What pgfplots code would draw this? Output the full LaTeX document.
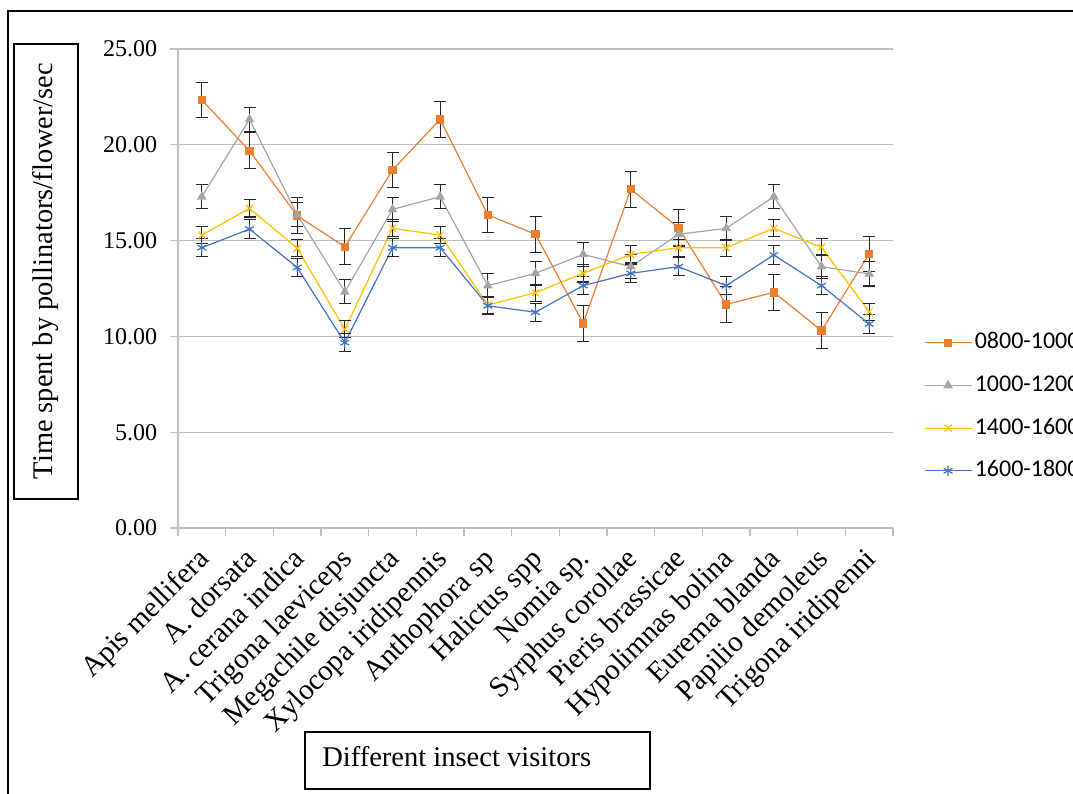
\documentclass[border=0pt]{standalone}
\usepackage{fontspec}
\setmainfont{Liberation Serif}
\newfontfamily\carlito{Carlito}
\usepackage{pgfplots}
\pgfplotsset{compat=1.18}
\definecolor{cO}{HTML}{ED7D31}
\definecolor{cG}{HTML}{A5A5A5}
\definecolor{cY}{HTML}{FFC000}
\definecolor{cB}{HTML}{4472C4}
\definecolor{gridc}{HTML}{BFBFBF}
\definecolor{errc}{HTML}{262626}
\begin{document}
\begin{tikzpicture}
\path[use as bounding box] (0,0) rectangle (804.75pt,594.75pt);
\draw[line width=1.1pt] (6pt,-5pt) -- (6pt,586.5pt) -- (815pt,586.5pt);
\draw[line width=1.5pt] (10.5pt,220.5pt) rectangle (58.5pt,561.75pt);
\node[rotate=90, inner sep=0pt, font=\fontsize{21.3}{21.3}\selectfont] at (34.5pt,391.5pt) {Time spent by pollinators/flower/sec};
\draw[line width=1.2pt] (228.75pt,3pt) rectangle (487.5pt,45.75pt);
\node[anchor=base west, inner sep=0pt, font=\fontsize{21.4}{21.4}\selectfont] at (241.5pt,19.7pt) {Different insect visitors};
\begin{axis}[
  at={(133.5pt,198.75pt)}, anchor=south west,
  scale only axis, width=536.25pt, height=359.25pt,
  xmin=-0.5, xmax=14.5, ymin=0, ymax=25,
  axis lines*=left,
  axis line style={draw=gridc, line width=1pt},
  xtick={0,...,14},
  xticklabels={Apis mellifera, A. dorsata, A. cerana indica, Trigona laeviceps, Megachile disjuncta, Xylocopa iridipennis, Anthophora sp, Halictus spp, Nomia sp., Syrphus corollae, Pieris brassicae, Hypolimnas bolina, Eurema blanda, Papilio demoleus, Trigona iridipenni},
  minor xtick={-0.5,0.5,...,14.5},
  ytick={0,5,...,25},
  ymajorgrids, grid style={gridc, line width=1pt},
  tick align=outside, major tick length=6pt, minor tick length=6pt,
  major x tick style={draw=none},
  minor x tick style={draw=gridc, line width=1pt},
  y tick style={draw=gridc, line width=1pt},
  /pgf/number format/assume math mode=true,
  yticklabel style={font=\fontsize{18}{18}\selectfont, /pgf/number format/fixed, /pgf/number format/fixed zerofill, /pgf/number format/precision=2, inner sep=0pt, xshift=-9.5pt},
  xticklabel shift=7.5pt,
  xticklabel style={font=\fontsize{21.8}{21.8}\selectfont, inner sep=0pt, xshift=-4.5pt, rotate=45, anchor=north east},
  legend style={at={(axis description cs:1.043,0.253)}, anchor=west, draw=none, fill=none, inner sep=0pt, font=\carlito\fontsize{18}{18}\selectfont, row sep=16pt, nodes={inner xsep=2pt, inner ysep=0pt, text height=12.5pt, text depth=3.5pt}},
  legend cell align=left,
  legend image code/.code={\draw[mark repeat=2, mark phase=2, #1] plot coordinates {(0pt,0pt) (17.6pt,0pt) (35.2pt,0pt)};},
  clip=false,
]
\addplot[cO, line width=0.9pt, mark=square*, mark size=2.7pt, mark options={solid, fill=cO, draw=cO},
  error bars/.cd, y dir=both, y fixed=0.93,
  error bar style={line width=0.8pt, errc},
  error mark options={rotate=90, mark size=4.5pt, line width=0.8pt, errc}]
coordinates {(0,22.34) (1,19.69) (2,16.30) (3,14.68) (4,18.68) (5,21.33) (6,16.34) (7,15.33) (8,10.68) (9,17.68) (10,15.67) (11,11.67) (12,12.30) (13,10.30) (14,14.30)};
\addlegendentry{0800-1000}
\addplot[cG, line width=0.9pt, mark=triangle*, mark size=3.3pt, mark options={solid, fill=cG, draw=cG},
  error bars/.cd, y dir=both, y fixed=0.63,
  error bar style={line width=0.8pt, errc},
  error mark options={rotate=90, mark size=4.5pt, line width=0.8pt, errc}]
coordinates {(0,17.29) (1,21.33) (2,16.35) (3,12.33) (4,16.63) (5,17.29) (6,12.65) (7,13.29) (8,14.28) (9,13.64) (10,15.33) (11,15.64) (12,17.29) (13,13.64) (14,13.26)};
\addlegendentry{1000-1200}
\addplot[cY, line width=0.9pt, mark=x, mark size=3.8pt, mark options={solid, draw=cY},
  error bars/.cd, y dir=both, y fixed=0.45,
  error bar style={line width=0.8pt, errc},
  error mark options={rotate=90, mark size=4.5pt, line width=0.8pt, errc}]
coordinates {(0,15.29) (1,16.68) (2,14.60) (3,10.37) (4,15.64) (5,15.29) (6,11.64) (7,12.28) (8,13.29) (9,14.28) (10,14.63) (11,14.63) (12,15.64) (13,14.65) (14,11.29)};
\addlegendentry{1400-1600}
\addplot[cB, line width=0.9pt, mark=asterisk, mark size=3.8pt, mark options={solid, draw=cB},
  error bars/.cd, y dir=both, y fixed=0.48,
  error bar style={line width=0.8pt, errc},
  error mark options={rotate=90, mark size=4.5pt, line width=0.8pt, errc}]
coordinates {(0,14.63) (1,15.60) (2,13.60) (3,9.67) (4,14.63) (5,14.63) (6,11.60) (7,11.26) (8,12.65) (9,13.29) (10,13.64) (11,12.65) (12,14.25) (13,12.65) (14,10.65)};
\addlegendentry{1600-1800}
\end{axis}
\end{tikzpicture}
\end{document}
